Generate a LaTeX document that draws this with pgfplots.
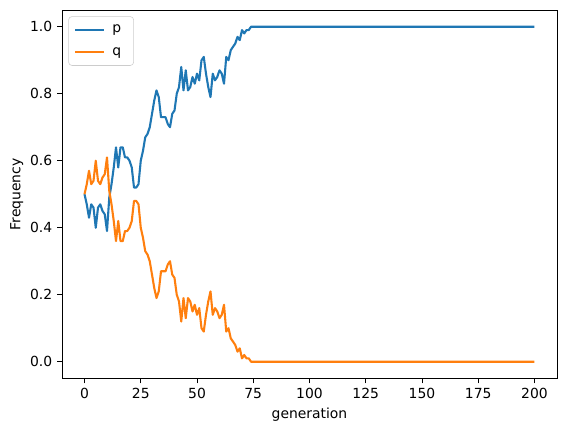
\documentclass[border=0pt]{standalone}
\usepackage{fontspec}
\setmainfont{DejaVu Sans}
\usepackage{pgfplots}
\pgfplotsset{compat=1.18}
\definecolor{tabblue}{HTML}{1F77B4}
\definecolor{taborange}{HTML}{FF7F0E}

\begin{document}
\begin{tikzpicture}
\begin{axis}[
    scale only axis,
    width=356pt, height=265pt,
    xmin=-10, xmax=210,
    ymin=-0.05, ymax=1.05,
    xtick={0,25,...,200},
    ytick={0,0.2,0.4,0.6,0.8,1.0},
    yticklabel style={/pgf/number format/.cd, fixed, fixed zerofill, precision=1},
    /pgf/number format/assume math mode=true,
    tick align=outside,
    tick pos=left,
    major tick length=3.5pt,
    tick style={black, line width=0.6pt},
    axis line style={line width=0.6pt},
    xlabel={generation},
    ylabel={Frequency},
    ylabel style={yshift=-2pt},
    legend cell align=left,
    legend style={draw=black!20, rounded corners=2.5pt, inner xsep=4pt, inner ysep=4pt,
        row sep=5pt, at={(0,1)}, anchor=north west, xshift=4.5pt, yshift=-4.5pt,
        nodes={inner xsep=5pt}},
    legend image code/.code={\draw[#1, line width=1.5pt] (0pt,0pt) -- (21pt,0pt);},
    every axis plot/.append style={line width=1.5pt, line join=round},
]
\addplot[tabblue, mark=none] coordinates {
(0,0.50) (1,0.47) (2,0.43) (3,0.47) (4,0.46) (5,0.40) (6,0.46) (7,0.47)
(8,0.45) (9,0.44) (10,0.39) (11,0.49) (12,0.53) (13,0.58) (14,0.64) (15,0.58)
(16,0.64) (17,0.64) (18,0.61) (19,0.61) (20,0.60) (21,0.58) (22,0.52) (23,0.52)
(24,0.53) (25,0.60) (26,0.63) (27,0.67) (28,0.68) (29,0.70) (30,0.74) (31,0.78)
(32,0.81) (33,0.79) (34,0.73) (35,0.73) (36,0.73) (37,0.71) (38,0.70) (39,0.74)
(40,0.75) (41,0.80) (42,0.82) (43,0.88) (44,0.81) (45,0.87) (46,0.81) (47,0.82)
(48,0.85) (49,0.83) (50,0.86) (51,0.84) (52,0.90) (53,0.91) (54,0.86) (55,0.82)
(56,0.79) (57,0.86) (58,0.84) (59,0.85) (60,0.87) (61,0.86) (62,0.83) (63,0.91)
(64,0.90) (65,0.93) (66,0.94) (67,0.95) (68,0.97) (69,0.96) (70,0.99) (71,0.98)
(72,0.99) (73,0.99) (74,1.00) (75,1.00) (100,1.00) (150,1.00) (200,1.00)
};
\addlegendentry{p}
\addplot[taborange, mark=none] coordinates {
(0,0.50) (1,0.53) (2,0.57) (3,0.53) (4,0.54) (5,0.60) (6,0.54) (7,0.53)
(8,0.55) (9,0.56) (10,0.61) (11,0.51) (12,0.47) (13,0.42) (14,0.36) (15,0.42)
(16,0.36) (17,0.36) (18,0.39) (19,0.39) (20,0.40) (21,0.42) (22,0.48) (23,0.48)
(24,0.47) (25,0.40) (26,0.37) (27,0.33) (28,0.32) (29,0.30) (30,0.26) (31,0.22)
(32,0.19) (33,0.21) (34,0.27) (35,0.27) (36,0.27) (37,0.29) (38,0.30) (39,0.26)
(40,0.25) (41,0.20) (42,0.18) (43,0.12) (44,0.19) (45,0.13) (46,0.19) (47,0.18)
(48,0.15) (49,0.17) (50,0.14) (51,0.16) (52,0.10) (53,0.09) (54,0.14) (55,0.18)
(56,0.21) (57,0.14) (58,0.16) (59,0.15) (60,0.13) (61,0.14) (62,0.17) (63,0.09)
(64,0.10) (65,0.07) (66,0.06) (67,0.05) (68,0.03) (69,0.04) (70,0.01) (71,0.02)
(72,0.01) (73,0.01) (74,0.00) (75,0.00) (100,0.00) (150,0.00) (200,0.00)
};
\addlegendentry{q}
\coordinate (sw) at (rel axis cs:0,0);
\coordinate (ne) at (rel axis cs:1,1);
\end{axis}
\pgfresetboundingbox
\path ([shift={(-44.6pt,-39pt)}]sw) rectangle ([shift={(7.2pt,7.2pt)}]ne);
\end{tikzpicture}
\end{document}
